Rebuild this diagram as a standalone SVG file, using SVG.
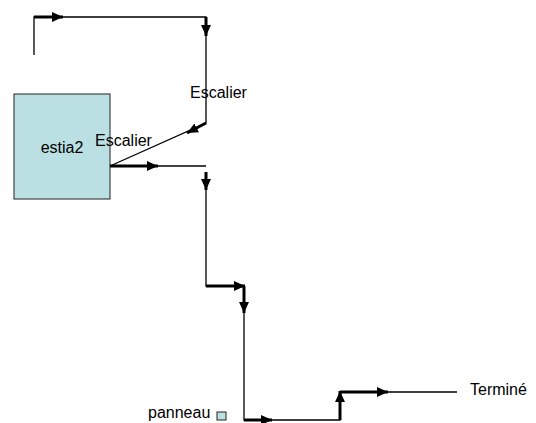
<svg xmlns="http://www.w3.org/2000/svg" width="536" height="423" viewBox="0 0 536 423">
<style>
.thin{fill:none;stroke:#000;stroke-width:1.3}
.bold{fill:none;stroke:#000;stroke-width:3;marker-end:url(#ah)}
.lbl{font-family:"Liberation Sans",Arial,sans-serif;font-size:16px;fill:#000}
.node{fill:#BBE0E3;stroke:#222;stroke-width:1}
</style>
<defs>
<marker id="ah" markerUnits="userSpaceOnUse" markerWidth="12" markerHeight="12" viewBox="0 0 12 12" refX="11" refY="6" orient="auto">
<path d="M0,1 L11,6 L0,11 Z" fill="#000"/>
</marker>
</defs>
<rect width="536" height="423" fill="#fff"/>
<g id="estia2">
<rect class="node" x="14" y="94" width="96" height="105"/>
<text class="lbl" x="62" y="153" text-anchor="middle">estia2</text>
</g>
<g id="panneau">
<text class="lbl" x="148" y="418">panneau</text>
<rect class="node" x="217" y="412" width="9" height="8"/>
</g>
<g id="termine">
<text class="lbl" x="470" y="395">Terminé</text>
</g>
<g id="connectors">
<path class="thin" d="M34,55 V17 H206 V123 L110,166"/>
<path class="bold" d="M34,17 H63"/>
<path class="bold" d="M206,17 V36"/>
<path class="bold" d="M206,123 L187,133"/>
<text class="lbl" x="190" y="98">Escalier</text>
<text class="lbl" x="95" y="146">Escalier</text>
<path class="thin" d="M110,166 H206"/>
<path class="bold" d="M110,166 H158"/>
<path class="thin" d="M206,172 V286 H244 V420 H340 V392 H457"/>
<path class="bold" d="M206,172 V190"/>
<path class="bold" d="M206,286 H245"/>
<path class="bold" d="M244,286 V313"/>
<path class="bold" d="M244,420 H272"/>
<path class="bold" d="M340,420 V391"/>
<path class="bold" d="M340,392 H388"/>
</g>
</svg>
